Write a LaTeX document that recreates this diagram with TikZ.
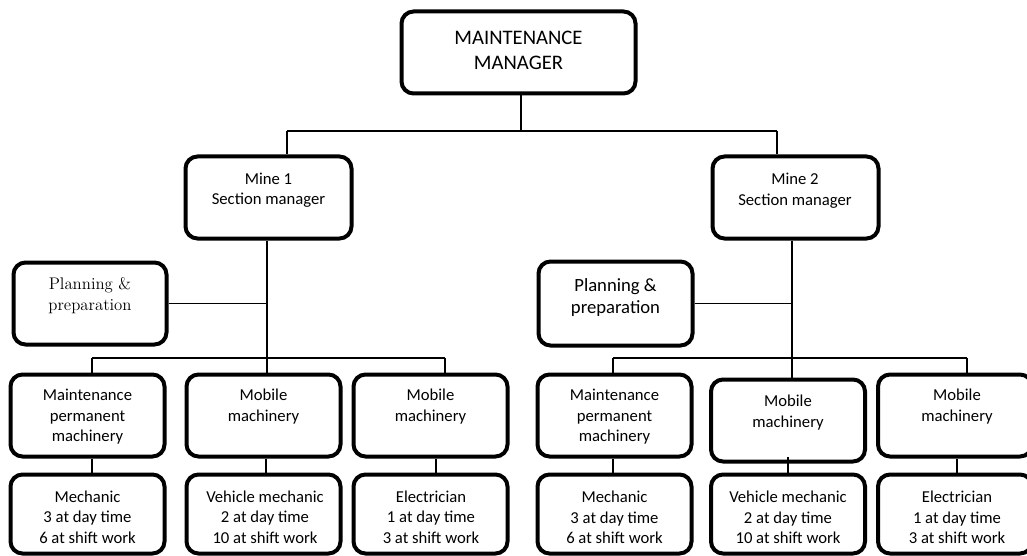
\documentclass[tikz,border=0pt]{standalone}
\usepackage{fontspec}
\newfontfamily\calibri{Carlito}
\begin{document}
\begin{tikzpicture}[x=0.75pt,y=-0.75pt,
  box/.style={draw=black, fill=white, line width=3pt, rounded corners=9pt,
              inner sep=0pt, minimum height=61.5pt},
  unit/.style={box, minimum width=115.5pt},
  txt/.style={align=center, inner sep=0pt, text=black,
              font=\calibri\fontsize{12.5}{15.4}\selectfont},
  conn/.style={draw=black, line width=1pt}]
\clip (0,0) rectangle (1027,556);
\fill[white] (0,0) rectangle (1027,556);

% ---- boxes ----
\node[box, minimum width=175.5pt] (top) at (518.5,52.5) {};
\node[box, minimum width=124.5pt] (m1) at (268.5,197.5) {};
\node[box, minimum width=124.5pt] (m2) at (795.5,197.5) {};
\node[box, minimum width=114.75pt] (p1) at (90,303.5) {};
\node[box, minimum width=115.5pt, minimum height=63pt] (p2) at (615.5,303.5) {};

\node[unit] (L1) at (87.5,415.5) {};
\node[unit] (L2) at (263.5,415.5) {};
\node[unit] (L3) at (430.5,415.5) {};
\node[unit] (R1) at (614.5,415.5) {};
\node[unit] (R2) at (788,420.5) {};
\node[unit] (R3) at (955,415.5) {};

\node[unit, minimum height=59.25pt] (LL1) at (87.5,514) {};
\node[unit, minimum height=59.25pt] (LL2) at (263.5,514) {};
\node[unit, minimum height=59.25pt] (LL3) at (430.5,514) {};
\node[unit, minimum height=59.25pt] (RR1) at (614.5,514) {};
\node[unit, minimum height=59.25pt] (RR2) at (788,514) {};
\node[unit, minimum height=59.25pt] (RR3) at (955,514) {};

% ---- connectors ----
\coordinate (tj) at (521,131);
\coordinate (t1) at (287,131);
\coordinate (t2) at (777,131);
\draw[conn] (tj |- top.south) -- (tj);
\draw[conn] (t1) -- (t2);
\draw[conn] (t1) -- (t1 |- m1.north);
\draw[conn] (t2) -- (t2 |- m2.north);

% mine 1 branch
\coordinate (b1) at (267,358);
\coordinate (b1l) at (92,358);
\coordinate (b1r) at (445,358);
\draw[conn] (b1 |- m1.south) -- (b1);
\draw[conn] (p1.east) -- (p1.east -| b1);
\draw[conn] (b1l) -- (b1r);
\draw[conn] (b1l) -- (b1l |- L1.north);
\draw[conn] (b1) -- (b1 |- L2.north);
\draw[conn] (b1r) -- (b1r |- L3.north);
\coordinate (c1) at (92,465);
\coordinate (c2) at (266,465);
\coordinate (c3) at (436,465);
\draw[conn] (c1 |- L1.south) -- (c1 |- LL1.north);
\draw[conn] (c2 |- L2.south) -- (c2 |- LL2.north);
\draw[conn] (c3 |- L3.south) -- (c3 |- LL3.north);

% mine 2 branch
\coordinate (b2) at (792,358);
\coordinate (b2l) at (613,358);
\coordinate (b2r) at (967,358);
\draw[conn] (b2 |- m2.south) -- (b2);
\draw[conn] (p2.east) -- (p2.east -| b2);
\draw[conn] (b2l) -- (b2r);
\draw[conn] (b2l) -- (b2l |- R1.north);
\draw[conn] (b2) -- (b2 |- R2.north);
\draw[conn] (b2r) -- (b2r |- R3.north);
\coordinate (d1) at (613,465);
\coordinate (d2) at (788,457);
\coordinate (d3) at (957,465);
\draw[conn] (d1 |- R1.south) -- (d1 |- RR1.north);
\draw[conn] (d2) -- (d2 |- RR2.north);
\draw[conn] (d3 |- R3.south) -- (d3 |- RR3.north);

% ---- texts ----
\node[txt, font=\calibri\fontsize{15.5}{18.8}\selectfont] (topT) at (518.5,50.5) {MAINTENANCE\\MANAGER};
\node[txt] (m1T) at (268.5,190) {Mine 1\\Section manager};
\node[txt] (m2T) at (795,190.5) {Mine 2\\Section manager};
\node[txt, font=\fontsize{12.6}{15.75}\selectfont] (p1T) at (90,295.5) {Planning \&\\preparation};
\node[txt, font=\calibri\fontsize{14}{16.5}\selectfont] (p2T) at (615.5,298) {Planning \&\\preparation};

\node[txt] (L1T) at (87.5,417) {Maintenance\\permanent\\machinery};
\node[txt] (L2T) at (263.5,406.5) {Mobile\\machinery};
\node[txt] (L3T) at (430.5,406.5) {Mobile\\machinery};
\node[txt] (R1T) at (614.5,417) {Maintenance\\permanent\\machinery};
\node[txt] (R2T) at (788,412.5) {Mobile\\machinery};
\node[txt] (R3T) at (957,406.5) {Mobile\\machinery};

\node[txt] (LL1T) at (87.5,517) {Mechanic\\3 at day time\\6 at shift work};
\node[txt] (LL2T) at (265,517) {Vehicle mechanic\\2 at day time\\10 at shift work};
\node[txt] (LL3T) at (431,517) {Electrician\\1 at day time\\3 at shift work};
\node[txt] (RR1T) at (614.5,517.5) {Mechanic\\3 at day time\\6 at shift work};
\node[txt] (RR2T) at (788,517.5) {Vehicle mechanic\\2 at day time\\10 at shift work};
\node[txt] (RR3T) at (957,517.5) {Electrician\\1 at day time\\3 at shift work};
\end{tikzpicture}
\end{document}
